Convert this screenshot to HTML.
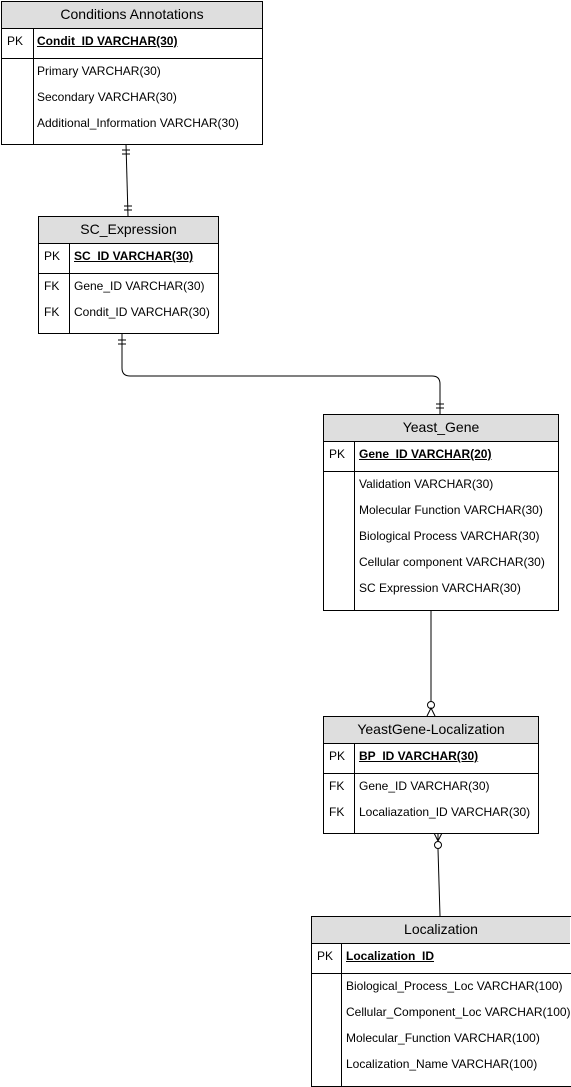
<!DOCTYPE html>
<html><head><style>
body{margin:0;width:571px;height:1087px;background:#fff;position:relative;overflow:hidden;font-family:"Liberation Sans",Arial,sans-serif;color:#000}
.t{position:absolute;border:1px solid #000;background:#fff;box-sizing:border-box;overflow:hidden}
.h{position:absolute;left:0;right:0;top:0;height:26px;background:#dedede;border-bottom:1px solid #000;font-size:14px;text-align:center;line-height:24px}
.pk{position:absolute;left:0;right:0;top:26px;height:30px;border-bottom:1px solid #000}
.col{position:absolute;top:26px;bottom:0;border-left:1px solid #000}
.s{position:absolute;font-size:12px;white-space:nowrap}
.b{font-weight:bold;text-decoration:underline}
</style></head><body>
<svg width="571" height="1087" style="position:absolute;left:0;top:0" fill="none" stroke="#000" stroke-width="1">
<path d="M126 144 L128 216"/>
<path d="M122 150 h8 M122 154 h8 M124 206 h8 M124 210 h8"/>
<path d="M122 333 V368 Q122 376 130 376 H432 Q440 376 440 384 V414"/>
<path d="M118 340 h8 M118 344 h8 M436 404 h8 M436 408 h8"/>
<path d="M431 610 V701"/>
<circle cx="431" cy="705" r="3.5" fill="#fff"/>
<path d="M427 716 L431 708 L435 716"/>
<path d="M438 833 V842 M434 833 L438 841 L442 833"/>
<circle cx="438" cy="845" r="3.5" fill="#fff"/>
<path d="M438 849 L440 916"/>
</svg>

<div class="t" style="left:1px;top:1px;width:262px;height:144px">
<div class="h">Conditions Annotations</div><div class="pk"></div><div class="col" style="left:31px"></div>
<div class="s" style="left:5px;top:32px">PK</div>
<div class="s b" style="left:35px;top:32px">Condit_ID VARCHAR(30)</div>
<div class="s" style="left:35px;top:62px">Primary VARCHAR(30)</div>
<div class="s" style="left:35px;top:88px">Secondary VARCHAR(30)</div>
<div class="s" style="left:35px;top:114px">Additional_Information VARCHAR(30)</div>
</div>

<div class="t" style="left:38px;top:216px;width:181px;height:118px">
<div class="h">SC_Expression</div><div class="pk"></div><div class="col" style="left:30px"></div>
<div class="s" style="left:5px;top:32px">PK</div>
<div class="s b" style="left:35px;top:32px">SC_ID VARCHAR(30)</div>
<div class="s" style="left:5px;top:62px">FK</div>
<div class="s" style="left:35px;top:62px">Gene_ID VARCHAR(30)</div>
<div class="s" style="left:5px;top:88px">FK</div>
<div class="s" style="left:35px;top:88px">Condit_ID VARCHAR(30)</div>
</div>

<div class="t" style="left:323px;top:414px;width:236px;height:197px">
<div class="h">Yeast_Gene</div><div class="pk"></div><div class="col" style="left:30px"></div>
<div class="s" style="left:5px;top:32px">PK</div>
<div class="s b" style="left:35px;top:32px">Gene_ID VARCHAR(20)</div>
<div class="s" style="left:35px;top:62px">Validation VARCHAR(30)</div>
<div class="s" style="left:35px;top:88px">Molecular Function VARCHAR(30)</div>
<div class="s" style="left:35px;top:114px">Biological Process VARCHAR(30)</div>
<div class="s" style="left:35px;top:140px">Cellular component VARCHAR(30)</div>
<div class="s" style="left:35px;top:166px">SC Expression VARCHAR(30)</div>
</div>

<div class="t" style="left:323px;top:716px;width:216px;height:118px">
<div class="h">YeastGene-Localization</div><div class="pk"></div><div class="col" style="left:30px"></div>
<div class="s" style="left:5px;top:32px">PK</div>
<div class="s b" style="left:35px;top:32px">BP_ID VARCHAR(30)</div>
<div class="s" style="left:5px;top:62px">FK</div>
<div class="s" style="left:35px;top:62px">Gene_ID VARCHAR(30)</div>
<div class="s" style="left:5px;top:88px">FK</div>
<div class="s" style="left:35px;top:88px">Localiazation_ID VARCHAR(30)</div>
</div>

<div class="t" style="left:311px;top:916px;width:263px;height:171px">
<div class="h" style="right:3px">Localization</div><div class="pk"></div><div class="col" style="left:29px"></div>
<div class="s" style="left:5px;top:32px">PK</div>
<div class="s b" style="left:34px;top:32px">Localization_ID</div>
<div class="s" style="left:34px;top:62px">Biological_Process_Loc VARCHAR(100)</div>
<div class="s" style="left:34px;top:88px">Cellular_Component_Loc VARCHAR(100)</div>
<div class="s" style="left:34px;top:114px">Molecular_Function VARCHAR(100)</div>
<div class="s" style="left:34px;top:140px">Localization_Name VARCHAR(100)</div>
</div>
</body></html>
